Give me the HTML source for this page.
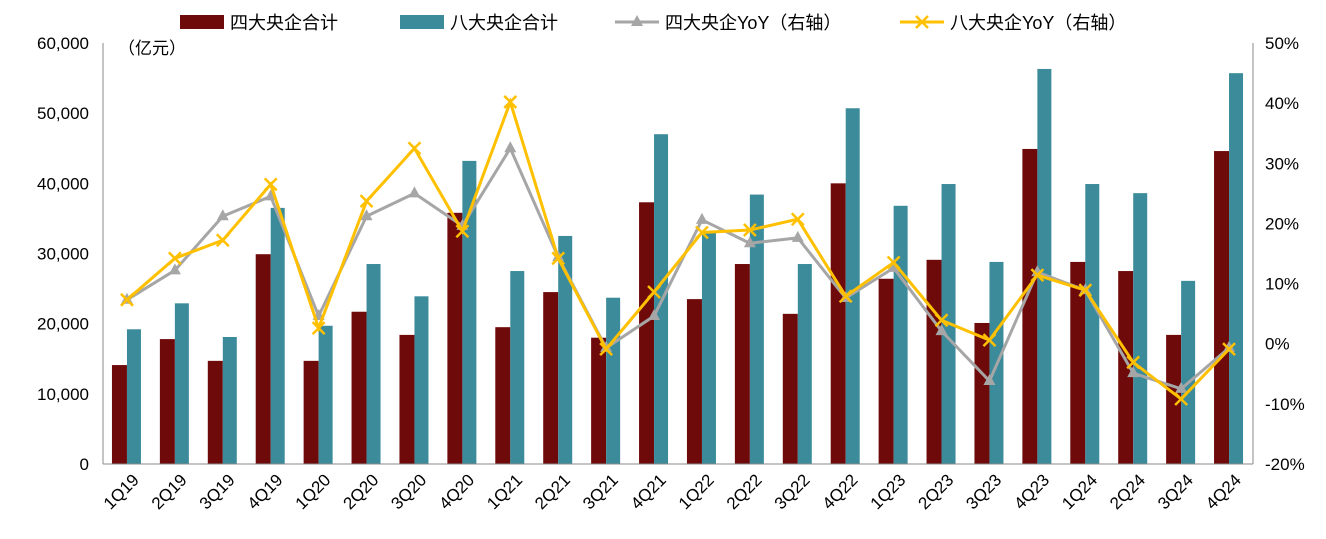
<!DOCTYPE html>
<html><head><meta charset="utf-8"><style>
body{margin:0;background:#fff;}
svg text{font-family:"Liberation Sans","Noto Sans CJK SC",sans-serif;fill:#000;}
</style></head><body>
<svg id="chart" width="1326" height="534"></svg>
<script>
const categories=["1Q19","2Q19","3Q19","4Q19","1Q20","2Q20","3Q20","4Q20","1Q21","2Q21","3Q21","4Q21","1Q22","2Q22","3Q22","4Q22","1Q23","2Q23","3Q23","4Q23","1Q24","2Q24","3Q24","4Q24"];
const four=[14100,17800,14700,29900,14700,21700,18400,35800,19500,24500,18000,37300,23500,28500,21400,40000,26400,29100,20100,44900,28800,27500,18400,44600];
const eight=[19200,22900,18100,36500,19700,28500,23900,43200,27500,32500,23700,47000,33000,38400,28500,50700,36800,39900,28800,56300,39900,38600,26100,55700];
const fourYoY=[7.3,12.2,21.2,24.5,4.6,21.2,25,19.6,32.5,14.4,-0.7,4.6,20.6,16.7,17.6,7.6,12.6,2.1,-6.2,11.9,8.9,-4.9,-7.5,-0.7];
const eightYoY=[7.3,14.2,17.2,26.5,2.6,23.7,32.5,18.7,40.2,14.2,-0.9,8.6,18.5,18.9,20.7,7.9,13.5,3.9,0.6,11.4,8.9,-3.1,-9.2,-0.9];
const leftTicks=[0,10000,20000,30000,40000,50000,60000];
const rightTicks=[-20,-10,0,10,20,30,40,50];
const NS="http://www.w3.org/2000/svg",svg=document.getElementById('chart');
const X0=103,X1=1253,Y0=464,Y1=43,bw=(X1-X0)/categories.length;
const yL=v=>Y0-(v/60000)*(Y0-Y1);
const yR=v=>Y0-((v+20)/70)*(Y0-Y1);
const xc=i=>X0+bw*(i+0.5);
function el(t,a,p){const e=document.createElementNS(NS,t);for(const k in a)e.setAttribute(k,a[k]);(p||svg).appendChild(e);return e;}
leftTicks.forEach(v=>{const t=el('text',{x:X0-14,y:yL(v)+6,'text-anchor':'end','font-size':17});t.textContent=v.toLocaleString('en-US');
});
rightTicks.forEach(v=>{const t=el('text',{x:X1+12,y:yR(v)+6,'font-size':17});t.textContent=v+'%';
});
let u=el('text',{x:118,y:54,'font-size':17});u.textContent='（亿元）';
categories.forEach((c,i)=>{
 let b=el('rect',{x:xc(i)-15,y:yL(four[i]),width:15,height:Y0-yL(four[i]),fill:'#6e0a0a'});
 
 b=el('rect',{x:xc(i),y:yL(eight[i]),width:14,height:Y0-yL(eight[i]),fill:'#3b8b9b'});
 
 const t=el('text',{x:0,y:0,'font-size':17,'text-anchor':'end',transform:`translate(${xc(i)+13},${Y0+17}) rotate(-45)`});t.textContent=c;
 
});
let ax=el('line',{x1:X0,x2:X0,y1:Y1,y2:Y0,stroke:'#888'});
ax=el('line',{x1:X1,x2:X1,y1:Y1,y2:Y0,stroke:'#888'});
ax=el('line',{x1:X0,x2:X1,y1:Y0,y2:Y0,stroke:'#888'});
function line(data,col,name,marker){
 const p=el('polyline',{points:data.map((v,i)=>xc(i)+','+yR(v)).join(' '),fill:'none',stroke:col,'stroke-width':3});
 
 data.forEach((v,i)=>{const x=xc(i),y=yR(v);let m;
  if(marker==='tri')m=el('polygon',{points:`${x},${y-7} ${x-6},${y+4} ${x+6},${y+4}`,fill:col});
  else m=el('path',{d:`M${x-6},${y-6}L${x+6},${y+6}M${x-6},${y+6}L${x+6},${y-6}`,stroke:col,'stroke-width':2.5});
  });
}
line(fourYoY,'#a6a6a6','line-four-yoy','tri');
line(eightYoY,'#ffc000','line-eight-yoy','x');
const lg=el('g',{});
function item(x,label,kind,col){
 if(kind==='rect')el('rect',{x:x,y:15,width:44,height:14,fill:col},lg);
 else{el('line',{x1:x,x2:x+44,y1:22,y2:22,stroke:col,'stroke-width':3},lg);
  if(kind==='tri')el('polygon',{points:`${x+22},15 ${x+16},26 ${x+28},26`,fill:col},lg);
  else el('path',{d:`M${x+16},16L${x+28},28M${x+16},28L${x+28},16`,stroke:col,'stroke-width':2.5},lg);}
 const t=el('text',{x:x+50,y:29,'font-size':18},lg);t.textContent=label;
 
}
item(180,'四大央企合计','rect','#6e0a0a');
item(400,'八大央企合计','rect','#3b8b9b');
item(615,'四大央企YoY（右轴）','tri','#a6a6a6');
item(900,'八大央企YoY（右轴）','x','#ffc000');
</script></body></html>
